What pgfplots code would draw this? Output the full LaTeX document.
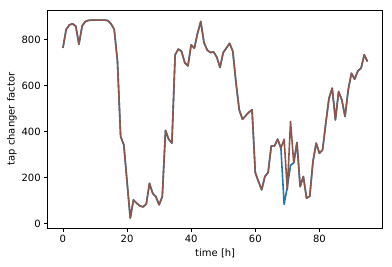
\documentclass[border=0pt]{standalone}
\usepackage{pgfplots}
\pgfplotsset{compat=1.18}
\usepackage{fontspec}
\setmainfont{DejaVu Sans}
\definecolor{mplblue}{HTML}{1F77B4}
\definecolor{mplbrown}{HTML}{8C564B}
\begin{document}
\begin{tikzpicture}[x=1pt,y=1pt]
\path[use as bounding box] (-47.7,-38) rectangle (344.3,228);
\begin{axis}[
  at={(0,0)}, anchor=south west,
  scale only axis, width=335pt, height=218pt,
  xmin=-4.75, xmax=99.75, ymin=-18, ymax=930,
  xtick={0,20,40,60,80}, ytick={0,200,400,600,800},
  tick align=outside, major tick length=3.5pt,
  tick style={black, line width=0.8pt},
  axis line style={line width=0.8pt},
  xtick pos=bottom, ytick pos=left,
  font=\fontsize{10}{12}\selectfont,
  /pgf/number format/assume math mode=true,
  xlabel={time [h]}, ylabel={tap changer factor},
  xlabel style={yshift=1pt}, ylabel style={yshift=-2pt},
  every axis plot/.append style={line width=1.6pt, line join=round, mark=none},
]
% variant with the deeper dip around hour 69
\addplot[mplblue] coordinates {
(0,765)(1,845)(2,865)(3,870)(4,860)(5,781)(6,861)(7,880)(8,885)(9,886)
(10,886)(11,886)(12,886)(13,886)(14,884)(15,870)(16,846)(17,710)(18,380)(19,343)
(20,184)(21,25)(22,104)(23,90)(24,78)(25,74)(26,86)(27,176)(28,133)(29,118)
(30,83)(31,119)(32,406)(33,368)(34,351)(35,735)(36,760)(37,750)(38,701)(39,687)
(40,778)(41,764)(42,829)(43,880)(44,788)(45,756)(46,745)(47,748)(48,725)(49,680)
(50,745)(51,765)(52,785)(53,750)(54,612)(55,496)(56,455)(57,470)(58,485)(59,496)
(60,223)(61,184)(62,148)(63,206)(64,223)(65,339)(66,339)(67,368)(68,329)(69,85)
(70,162)(71,255)(72,265)(73,354)(74,162)(75,206)(76,112)(77,120)(78,271)(79,351)
(80,307)(81,322)(82,438)(83,546)(84,590)(85,452)(86,575)(87,539)(88,467)(89,583)
(90,655)(91,629)(92,665)(93,677)(94,735)(95,706)
};
\addplot[mplbrown] coordinates {
(0,765)(1,845)(2,865)(3,870)(4,860)(5,781)(6,861)(7,880)(8,885)(9,886)
(10,886)(11,886)(12,886)(13,886)(14,884)(15,870)(16,846)(17,710)(18,380)(19,343)
(20,184)(21,25)(22,104)(23,90)(24,78)(25,74)(26,86)(27,176)(28,133)(29,118)
(30,83)(31,119)(32,406)(33,368)(34,351)(35,735)(36,760)(37,750)(38,701)(39,687)
(40,778)(41,764)(42,829)(43,880)(44,788)(45,756)(46,745)(47,748)(48,725)(49,680)
(50,745)(51,765)(52,785)(53,750)(54,612)(55,496)(56,455)(57,470)(58,485)(59,496)
(60,223)(61,184)(62,148)(63,206)(64,223)(65,339)(66,339)(67,368)(68,329)(69,368)
(70,148)(71,445)(72,265)(73,354)(74,162)(75,206)(76,112)(77,120)(78,271)(79,351)
(80,307)(81,322)(82,438)(83,546)(84,590)(85,452)(86,575)(87,539)(88,467)(89,583)
(90,655)(91,629)(92,665)(93,677)(94,735)(95,706)
};
\end{axis}
\end{tikzpicture}
\end{document}
